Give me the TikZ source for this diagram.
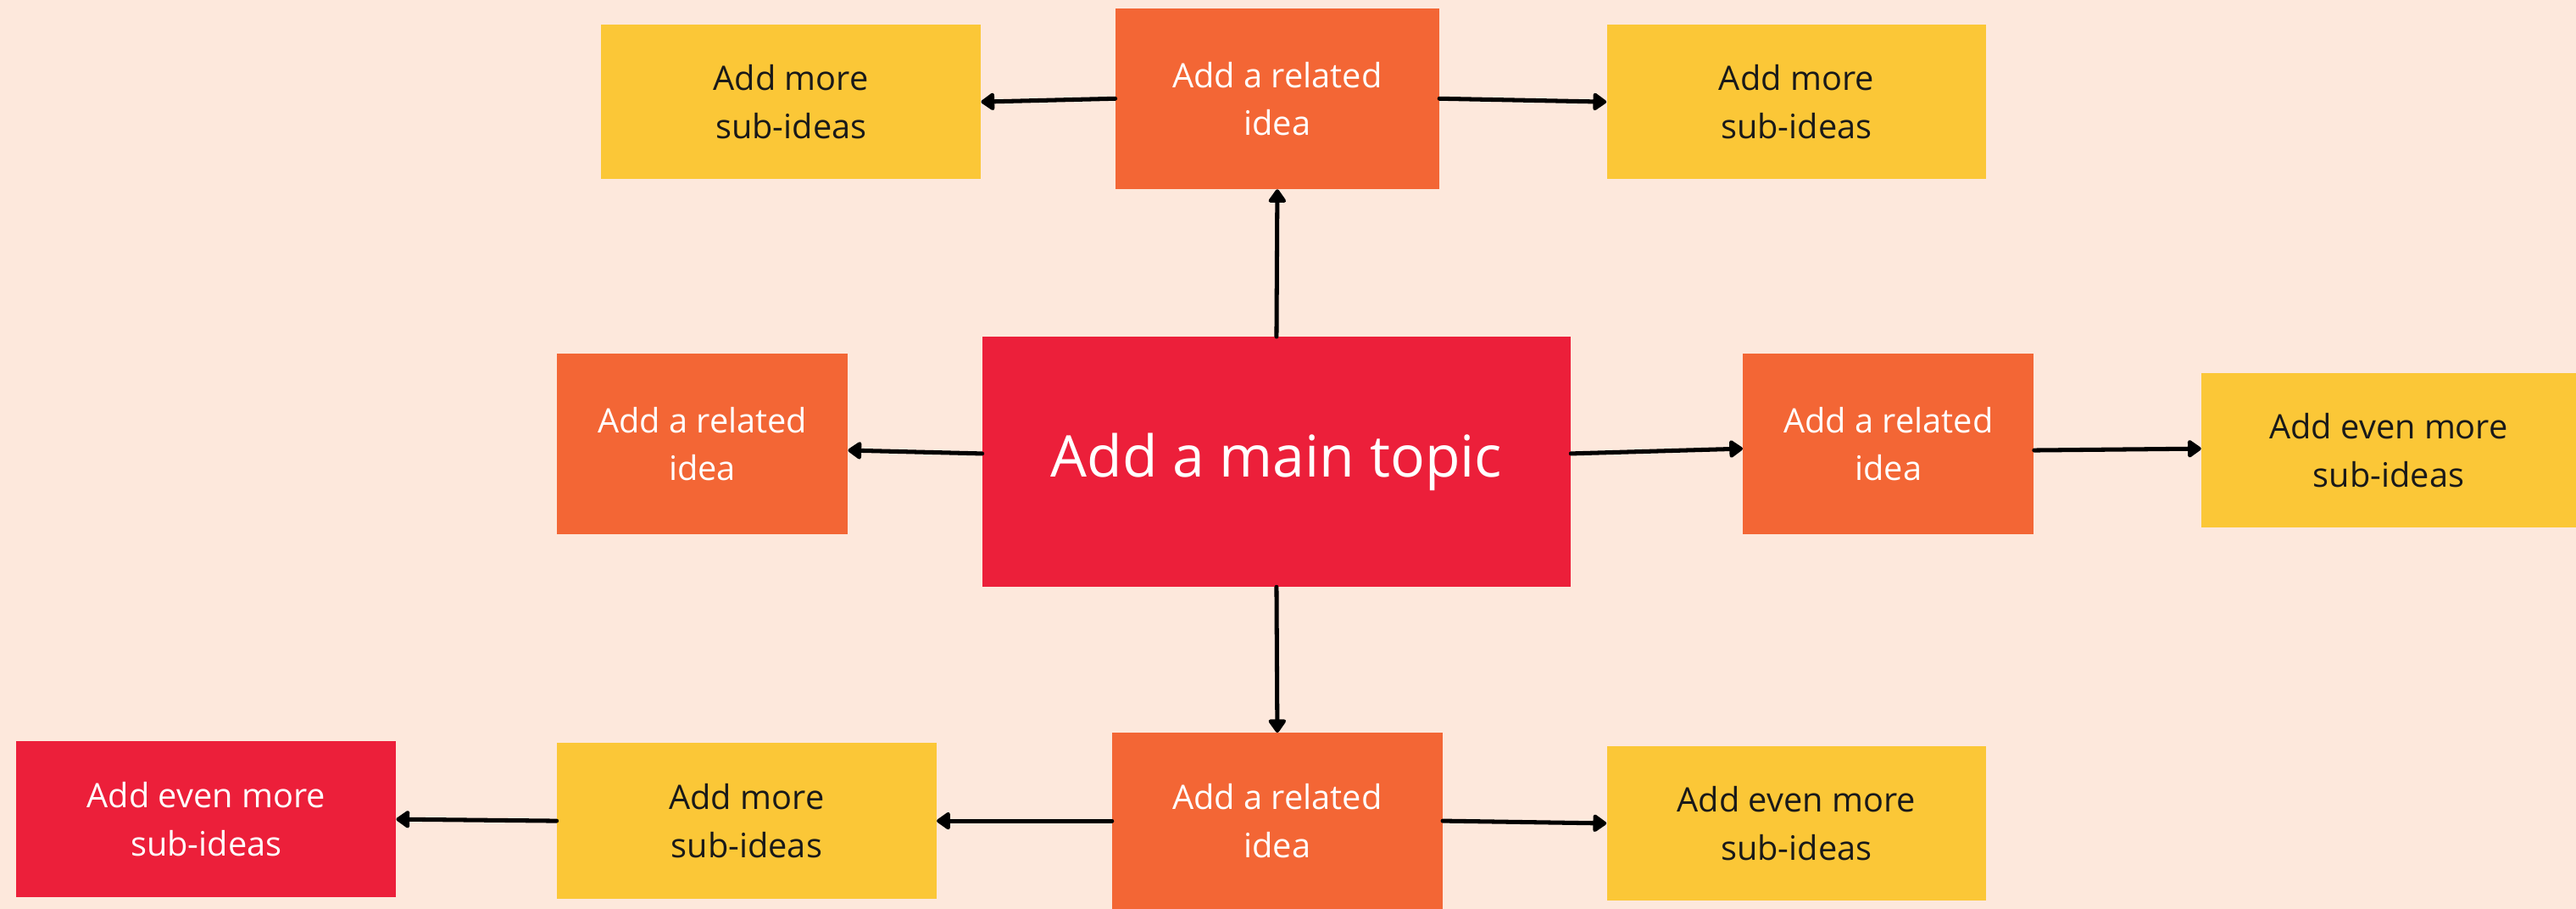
\documentclass[tikz,border=0pt]{standalone}
\usepackage{fontspec}
\setmainfont{Open Sans}
\usepackage{xcolor}
\usetikzlibrary{positioning,arrows.meta}

\definecolor{peach}{HTML}{FDE8DC}
\definecolor{topicred}{HTML}{EC1F3A}
\definecolor{ideaorange}{HTML}{F36635}
\definecolor{subyellow}{HTML}{FBC737}

\begin{document}
\begin{tikzpicture}[x=1pt, y=-1pt,
		box/.style={rectangle, inner sep=0pt, align=center, font=\fontsize{20.5}{29}\selectfont},
		topic/.style={box, fill=topicred, text=white, minimum width=358pt, minimum height=152pt,
			font=\fontsize{35}{42}\selectfont},
		idea/.style={box, fill=ideaorange, text=white, minimum height=110pt},
		subidea/.style={box, fill=subyellow, text=black!90, minimum width=231pt, minimum height=94pt},
		link/.style={-{Triangle[length=9pt,width=12pt,round]}, line width=2.6pt, line cap=round, black}]
		\fill[peach] (0,0) rectangle (1568,553);
		\useasboundingbox (0,0) rectangle (1568,553);

		% centre
		\node[topic] (main) at (777,281) {Add a main topic};

		% related ideas
		\node[idea, minimum width=197pt] (ideaN) at (777.5,60) {Add a related\\idea};
		\node[idea, minimum width=177pt] (ideaW) at (427.5,270) {Add a related\\idea};
		\node[idea, minimum width=177pt] (ideaE) at (1149.5,270) {Add a related\\idea};
		\node[idea, minimum width=201pt, minimum height=107pt] (ideaS) at (777.5,499.5) {Add a related\\idea};

		% sub-ideas
		\node[subidea] (subNW) at (481.5,62) {Add more\\sub-ideas};
		\node[subidea] (subNE) at (1093.5,62) {Add more\\sub-ideas};
		\node[subidea, minimum width=228pt] (subE) at (1454,274) {Add even more\\sub-ideas};
		\node[subidea] (subSE) at (1093.5,501) {Add even more\\sub-ideas};
		\node[subidea, minimum height=95pt] (subSW) at (454.5,499.5) {Add more\\sub-ideas};
		\node[subidea, minimum height=95pt, fill=topicred, text=white] (subW) at (125.5,498.5) {Add even more\\sub-ideas};

		\draw[link] (main.north) -- (ideaN.south);
		\draw[link] (main.south) -- (ideaS.north);
		\draw[link] ([yshift=5pt]main.west) -- ([yshift=-4pt]ideaW.east);
		\draw[link] ([yshift=5pt]main.east) -- ([yshift=-3pt]ideaE.west);
		\draw[link] (ideaN.west) -- (subNW.east);
		\draw[link] (ideaN.east) -- (subNE.west);
		\draw[link] ([yshift=-4pt]ideaE.east) -- ([yshift=1pt]subE.west);
		\draw[link] (ideaS.east) -- (subSE.west);
		\draw[link] (ideaS.west) -- (subSW.east);
		\draw[link] (subSW.west) -- (subW.east);
	\end{tikzpicture}
\end{document}
